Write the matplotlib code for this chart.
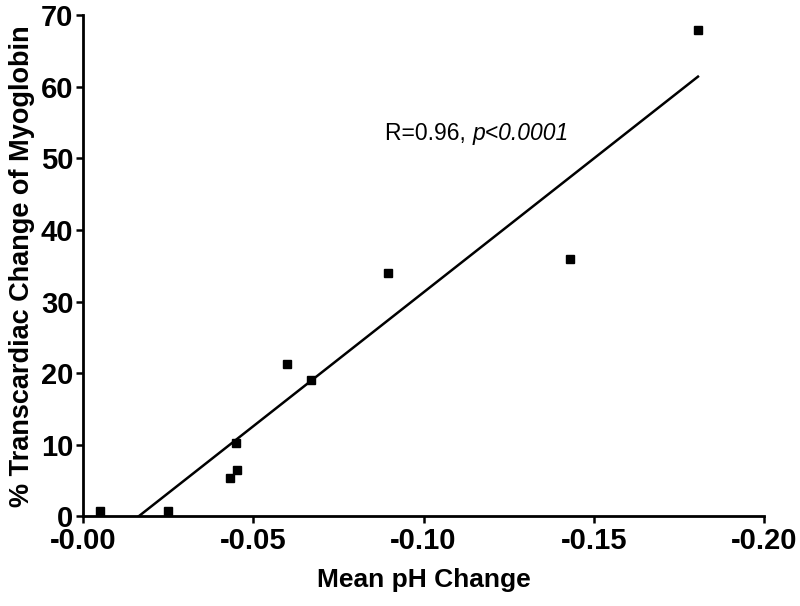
import numpy as np
import matplotlib.pyplot as plt

plt.rcParams['font.family'] = ['Liberation Sans', 'DejaVu Sans']

# mean pH change vs % transcardiac change of myoglobin
ph_change = [-0.005, -0.025, -0.043, -0.0453, -0.045, -0.060, -0.0668, -0.0894, -0.143, -0.1806]
myo_change = [0.8, 0.7, 5.4, 6.4, 10.3, 21.3, 19.1, 34.0, 36.0, 67.9]

xticks = [0.0, -0.05, -0.10, -0.15, -0.20]
xticklabels = ['-0.00', '-0.05', '-0.10', '-0.15', '-0.20']
yticks = [0, 10, 20, 30, 40, 50, 60, 70]

x = np.array(ph_change)
y = np.array(myo_change)
b, a = np.polyfit(x, y, 1)
x0 = -a / b  # where the fit line hits y=0
xl = np.linspace(x0, x.min(), 50)
yl = a + b * xl

fig = plt.figure(figsize=(8, 6.06), dpi=100)
ax = fig.add_axes([0.104, 0.148, 0.851, 0.827])

ax.plot(xl, yl, '-k', lw=1.8)
ax.plot(x, y, 'sk', ms=5.5, clip_on=False)

ax.set_xlim(0, -0.20)
ax.set_ylim(0, 70)
ax.set_xticks(xticks)
ax.set_xticklabels(xticklabels)
ax.set_yticks(yticks)

for s in ['top', 'right']:
    ax.spines[s].set_visible(False)
for s in ['left', 'bottom']:
    ax.spines[s].set_linewidth(2.0)
ax.tick_params(width=1.8, length=5, direction='out')
ax.tick_params(axis='x', labelsize=21, pad=3)
ax.tick_params(axis='y', labelsize=21, pad=2)
for lab in ax.get_xticklabels() + ax.get_yticklabels():
    lab.set_fontweight('bold')

ax.set_xlabel('Mean pH Change', fontsize=19, fontweight='bold', labelpad=9)
ax.set_ylabel('% Transcardiac Change of Myoglobin', fontsize=19.5, fontweight='bold', labelpad=4)

t1 = ax.text(-0.0888, 53.5, 'R=0.96, ', fontsize=16.5, va='center', ha='left')
ax.annotate('p<0.0001', xy=(1, 0.5), xycoords=t1, fontsize=16.5, style='italic',
            va='center', ha='left')

fig.savefig('out.png', dpi=100)
